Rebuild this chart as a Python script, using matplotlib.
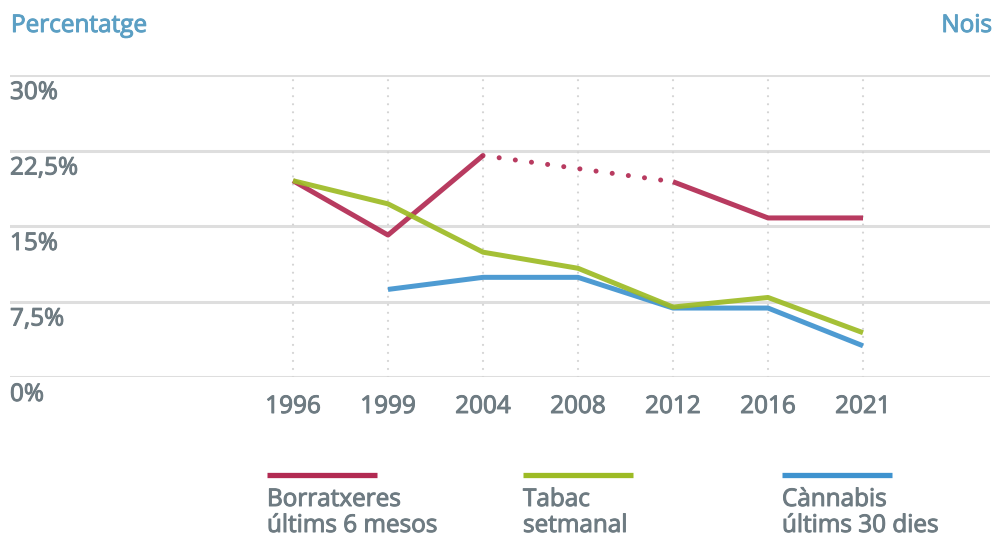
import matplotlib
matplotlib.use("Agg")
import matplotlib.pyplot as plt
import matplotlib.patheffects as pe
import numpy as np

plt.rcParams['font.family'] = ['Open Sans', 'DejaVu Sans']

years = ["1996", "1999", "2004", "2008", "2012", "2016", "2021"]
borratxeres = [19.5, 14.1, 22.0, None, 19.4, 15.8, 15.8]
tabac = [19.5, 17.2, 12.4, 10.8, 6.95, 7.9, 4.4]
cannabis = [None, 8.7, 9.9, 9.9, 6.85, 6.85, 3.1]
y_ticks = [0, 7.5, 15, 22.5, 30]
y_tick_labels = ["0%", "7,5%", "15%", "22,5%", "30%"]
series_names = [("Borratxeres", "últims 6 mesos"), ("Tabac", "setmanal"),
                ("Cànnabis", "últims 30 dies")]

RED = "#b22a52"
GREEN = "#9dbb25"
BLUE = "#3f93cf"
TEXT = "#6e7b82"
TITLE = "#5b9fc4"
GRID = "#dedede"

W, H = 995, 537
fig = plt.figure(figsize=(W / 100, H / 100), dpi=100)
ax = fig.add_axes([10 / W, (H - 377) / H, 980 / W, 302 / H])

x = np.arange(len(years))
ax.set_xlim((10 - 293) / 95, (990 - 293) / 95)
ax.set_ylim(0, 30)
ax.axis('off')


def heavy(color, w=0.7):
    # slightly thicken the regular face
    return [pe.withStroke(linewidth=w, foreground=color)]


# horizontal gridlines
for v in y_ticks:
    ax.axhline(v, color=GRID, lw=2.2, zorder=1)
# vertical dotted guides
for xi in x:
    ax.plot([xi, xi], [0, 30], color="#d4d4d4", lw=1.6,
            linestyle=(0, (0.01, 3.6)), dash_capstyle='round', zorder=1)


def segments(vals):
    xs, ys = [], []
    for xi, v in zip(x, vals):
        if v is None:
            if xs:
                yield xs, ys
            xs, ys = [], []
        else:
            xs.append(xi)
            ys.append(v)
    if xs:
        yield xs, ys


lw = 3.6
for xs, ys in segments(borratxeres):
    ax.plot(xs, ys, color=RED, lw=lw, alpha=0.92, zorder=3, solid_capstyle='butt')
# dotted bridge across the missing 2008 value
i0, i1 = 2, 4
ax.plot([x[i0], x[i1]], [borratxeres[i0], borratxeres[i1]], color=RED, lw=lw,
        alpha=0.92, linestyle=(0, (0.01, 3.25)), dash_capstyle='round', zorder=3)
for xs, ys in segments(tabac):
    ax.plot(xs, ys, color=GREEN, lw=lw, alpha=0.92, zorder=4, solid_capstyle='butt')
for xs, ys in segments(cannabis):
    ax.plot(xs, ys, color=BLUE, lw=lw, alpha=0.92, zorder=2, solid_capstyle='butt')

FS = 17.5

# y labels under each gridline
for v, lab in zip(y_ticks, y_tick_labels):
    ax.annotate(lab, xy=(0, v), xycoords=('axes fraction', 'data'),
                xytext=(0, -24), textcoords='offset pixels', ha='left',
                va='baseline', fontsize=FS, color=TEXT,
                path_effects=heavy(TEXT))

# x labels
for xi, lab in zip(x, years):
    ax.annotate(lab, xy=(xi, 0), xycoords='data', xytext=(0, -36),
                textcoords='offset pixels', ha='center', va='baseline',
                fontsize=FS, color=TEXT, path_effects=heavy(TEXT))

fig.text(11 / W, 1 - 32 / H, "Percentatge", ha='left', va='baseline',
         fontsize=FS, color=TITLE, path_effects=heavy(TITLE))
fig.text(992 / W, 1 - 32 / H, "Nois", ha='right', va='baseline',
         fontsize=FS, color=TITLE, path_effects=heavy(TITLE))

# legend
legend_x = [267, 523, 782]
for lx, col, (l1, l2) in zip(legend_x, [RED, GREEN, BLUE], series_names):
    fig.add_artist(plt.Line2D([lx / W, (lx + 110) / W], [1 - 475 / H] * 2,
                              color=col, lw=3.8, solid_capstyle='butt'))
    fig.text(lx / W, 1 - 506 / H, l1, ha='left', va='baseline', fontsize=FS,
             color=TEXT, path_effects=heavy(TEXT))
    fig.text(lx / W, 1 - 532 / H, l2, ha='left', va='baseline', fontsize=FS,
             color=TEXT, path_effects=heavy(TEXT))

fig.savefig("out.png", dpi=100)
